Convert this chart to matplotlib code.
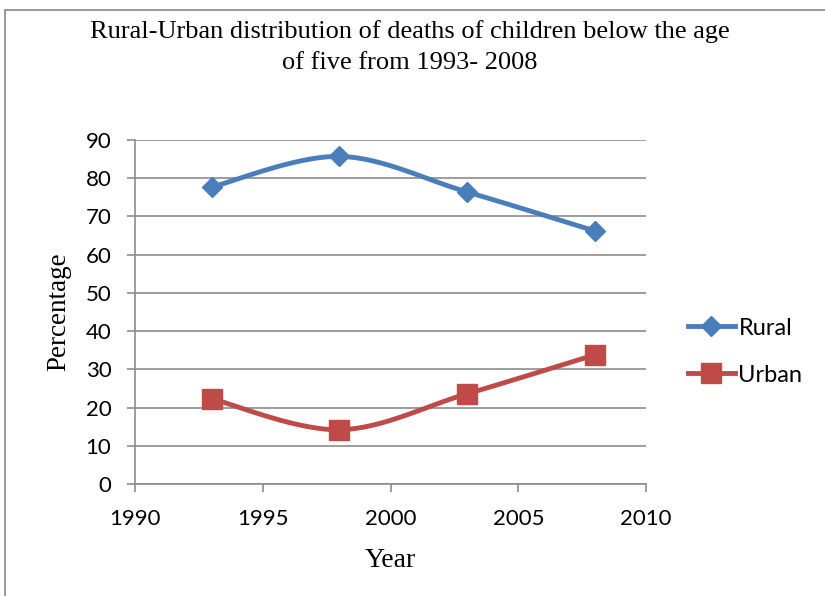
import numpy as np
import matplotlib.pyplot as plt
from matplotlib.patches import Rectangle

years = [1993, 1998, 2003, 2008]
rural = [77.7, 85.7, 76.4, 66.2]
urban = [22.3, 14.2, 23.6, 33.8]

blue = "#4a7ebb"
red = "#be4b48"
grid = "#8c8c8c"


def smooth(x, y, n=40):
    # Catmull-Rom style cubic Bezier through the points (like Excel's smoothed line)
    x = np.asarray(x, float)
    y = np.asarray(y, float)
    px = np.concatenate([[x[0]], x, [x[-1]]])
    py = np.concatenate([[y[0]], y, [y[-1]]])
    xs, ys = [], []
    t = np.linspace(0, 1, n)
    for i in range(1, len(px) - 2):
        p0 = np.array([px[i], py[i]])
        p3 = np.array([px[i + 1], py[i + 1]])
        p1 = p0 + (np.array([px[i + 1], py[i + 1]]) - np.array([px[i - 1], py[i - 1]])) / 6
        p2 = p3 - (np.array([px[i + 2], py[i + 2]]) - np.array([px[i], py[i]])) / 6
        b = ((1 - t) ** 3)[:, None] * p0 + (3 * (1 - t) ** 2 * t)[:, None] * p1 \
            + (3 * (1 - t) * t ** 2)[:, None] * p2 + (t ** 3)[:, None] * p3
        xs.extend(b[:, 0])
        ys.extend(b[:, 1])
    return np.array(xs), np.array(ys)


fig = plt.figure(figsize=(8.25, 5.96), dpi=100)
fig.patches.append(Rectangle((5 / 825, -0.1), 1.2, (596 - 10) / 596 + 0.1,
                             transform=fig.transFigure, fill=False,
                             edgecolor="#888888", linewidth=1.2))

ax = fig.add_axes([135 / 825, 112 / 596, 511 / 825, 344 / 596])

rx, ry = smooth(years, rural)
ux, uy = smooth(years, urban)
ax.plot(rx, ry, color=blue, linewidth=3.5, solid_capstyle="round", zorder=3)
ax.plot(ux, uy, color=red, linewidth=3.5, solid_capstyle="round", zorder=3)
ax.plot(years, rural, linestyle="none", marker="D", markersize=10, color=blue, zorder=4)
ax.plot(years, urban, linestyle="none", marker="s", markersize=14.5, color=red, zorder=4)

# legend entries
ax.plot([], [], color=blue, linewidth=3.5, marker="D", markersize=10, label="Rural")
ax.plot([], [], color=red, linewidth=3.5, marker="s", markersize=14.5, label="Urban")

ax.set_xlim(1990, 2010)
ax.set_ylim(0, 90)
ax.set_xticks(np.arange(1990, 2011, 5))
ax.set_yticks(np.arange(0, 91, 10))
ax.yaxis.grid(True, color=grid, linewidth=1.2)
ax.set_axisbelow(True)
for s in ["top", "right"]:
    ax.spines[s].set_visible(False)
for s in ["left", "bottom"]:
    ax.spines[s].set_color(grid)
    ax.spines[s].set_linewidth(1.2)
ax.tick_params(direction="out", length=6, width=1.2, color=grid, labelsize=16)
ax.tick_params(axis="x", pad=12)
ax.tick_params(axis="y", pad=11)
for lab in ax.get_xticklabels() + ax.get_yticklabels():
    lab.set_fontfamily("Lato")

ax.set_xlabel("Year", family="Liberation Serif", fontsize=20, labelpad=14)
ax.set_ylabel("Percentage", family="Liberation Serif", fontsize=19.5, labelpad=10)

fig.text(0.497, 0.966, "Rural-Urban distribution of deaths of children below the age\nof five from 1993- 2008",
         ha="center", va="top", family="Liberation Serif", fontsize=19, linespacing=1.5)

leg = ax.legend(loc="center left", bbox_to_anchor=(1.04, 0.385), frameon=False,
                prop={"family": "Lato", "size": 17}, handlelength=2.0,
                handletextpad=0.15, labelspacing=1.1)

fig.savefig("out.png", dpi=100)
